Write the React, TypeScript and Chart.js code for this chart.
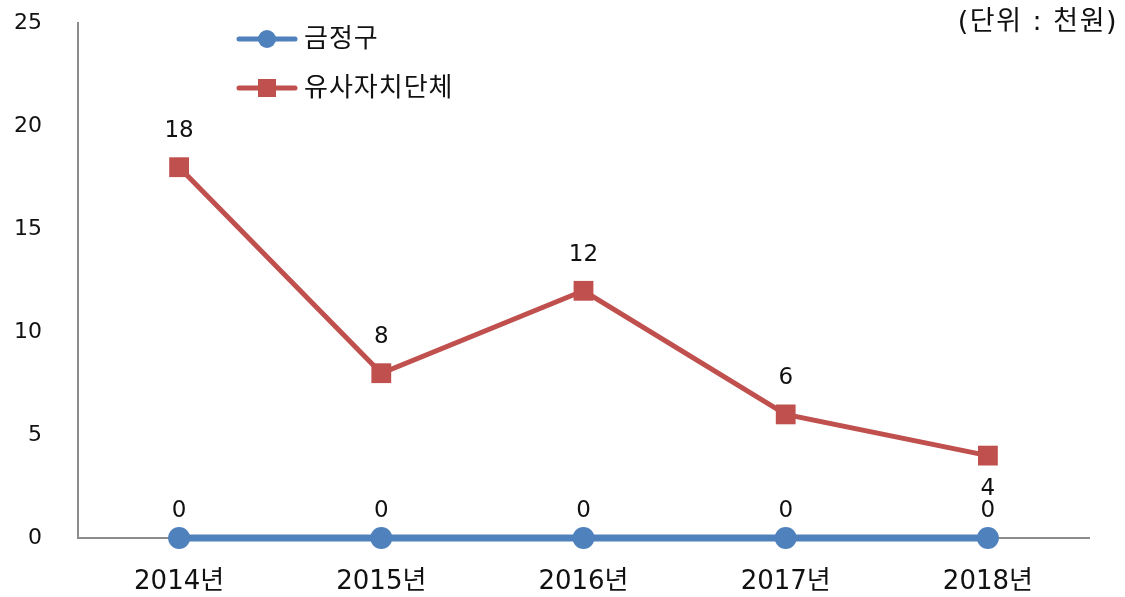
import React, { useEffect, useRef } from "react";
import { Chart, registerables } from "chart.js";

Chart.register(...registerables);

const categories = ["2014년", "2015년", "2016년", "2017년", "2018년"];
const seriesNames = ["금정구", "유사자치단체"];
const geumjeongValues = [0, 0, 0, 0, 0];
const similarValues = [18, 8, 12, 6, 4];
const yTicks = [0, 5, 10, 15, 20, 25];
const unitLabel = "(단위 : 천원)";

const BLUE = "#4F81BD";
const RED = "#C0504D";
const FONT = "'DejaVu Sans', 'Noto Sans CJK KR', sans-serif";
const TEXT = "#111111";

const overlayPlugin = {
  id: "overlay",
  afterDatasetsDraw(chart: any) {
    const ctx = chart.ctx as CanvasRenderingContext2D;
    ctx.save();
    ctx.fillStyle = TEXT;
    ctx.font = `23px ${FONT}`;
    ctx.textAlign = "center";
    ctx.textBaseline = "middle";
    chart.data.datasets.forEach((ds: any, di: number) => {
      const meta = chart.getDatasetMeta(di);
      meta.data.forEach((pt: any, i: number) => {
        const v = ds.data[i];
        let dy = di === 0 ? -27 : -36;
        if (di === 1 && i === ds.data.length - 1) dy = 33;
        ctx.fillText(String(v), pt.x, pt.y + dy);
      });
    });
    ctx.font = `27px ${FONT}`;
    ctx.textAlign = "right";
    (ctx as any).letterSpacing = "1.5px";
    ctx.fillText(unitLabel, 1118, 23);
    (ctx as any).letterSpacing = "0px";
    const items = [
      { name: seriesNames[0], color: BLUE, shape: "circle", y: 39 },
      { name: seriesNames[1], color: RED, shape: "rect", y: 88 },
    ];
    items.forEach((it) => {
      ctx.strokeStyle = it.color;
      ctx.lineWidth = 5;
      ctx.lineCap = "round";
      ctx.beginPath();
      ctx.moveTo(239, it.y);
      ctx.lineTo(295, it.y);
      ctx.stroke();
      ctx.fillStyle = it.color;
      if (it.shape === "circle") {
        ctx.beginPath();
        ctx.arc(267, it.y, 9, 0, Math.PI * 2);
        ctx.fill();
      } else {
        ctx.fillRect(258, it.y - 9, 18, 18);
      }
      ctx.fillStyle = TEXT;
      ctx.font = `26px ${FONT}`;
      ctx.textAlign = "left";
      (ctx as any).letterSpacing = "1px";
      ctx.fillText(it.name, 304, it.y + 1);
      (ctx as any).letterSpacing = "0px";
    });
    ctx.restore();
  },
};

export default function App() {
  const ref = useRef<HTMLCanvasElement>(null);
  useEffect(() => {
    if (!ref.current) return;
    const chart = new Chart(ref.current, {
      type: "line",
      data: {
        labels: categories,
        datasets: [
          {
            label: seriesNames[0],
            data: geumjeongValues,
            borderColor: BLUE,
            backgroundColor: BLUE,
            borderWidth: 7,
            pointStyle: "circle",
            pointRadius: 11,
            pointBorderWidth: 0,
            tension: 0,
            clip: false,
          },
          {
            label: seriesNames[1],
            data: similarValues,
            borderColor: RED,
            backgroundColor: RED,
            borderWidth: 5,
            pointStyle: "rect",
            pointRadius: 14,
            pointBorderWidth: 0,
            tension: 0,
            clip: false,
          },
        ],
      },
      options: {
        responsive: false,
        animation: false,
        layout: { autoPadding: false, padding: { left: 0, right: 36, top: 23, bottom: 0 } },
        plugins: { legend: { display: false }, tooltip: { enabled: false } },
        scales: {
          x: {
            offset: true,
            grid: { display: false, drawTicks: false },
            border: { display: true, color: "#8c8c8c", width: 2 },
            ticks: { padding: 29, color: TEXT, font: { size: 26, family: FONT } },
            afterFit: (s: any) => { s.height = 59; s.paddingLeft = 0; s.paddingRight = 0; },
          },
          y: {
            min: 0,
            max: 25,
            grid: { display: false, drawTicks: false },
            border: { display: true, color: "#8c8c8c", width: 2 },
            afterBuildTicks: (s: any) => { s.ticks = yTicks.map((v) => ({ value: v })); },
            ticks: { padding: 36, color: TEXT, font: { size: 22, family: FONT } },
            afterFit: (s: any) => { s.width = 78; s.paddingTop = 0; s.paddingBottom = 0; },
          },
        },
      },
      plugins: [overlayPlugin],
    });
    return () => chart.destroy();
  }, []);
  return (
    <div style={{ position: "fixed", left: 0, top: 0, width: 1125, height: 597, background: "#fff" }}>
      <canvas ref={ref} width={1125} height={597} />
    </div>
  );
}
